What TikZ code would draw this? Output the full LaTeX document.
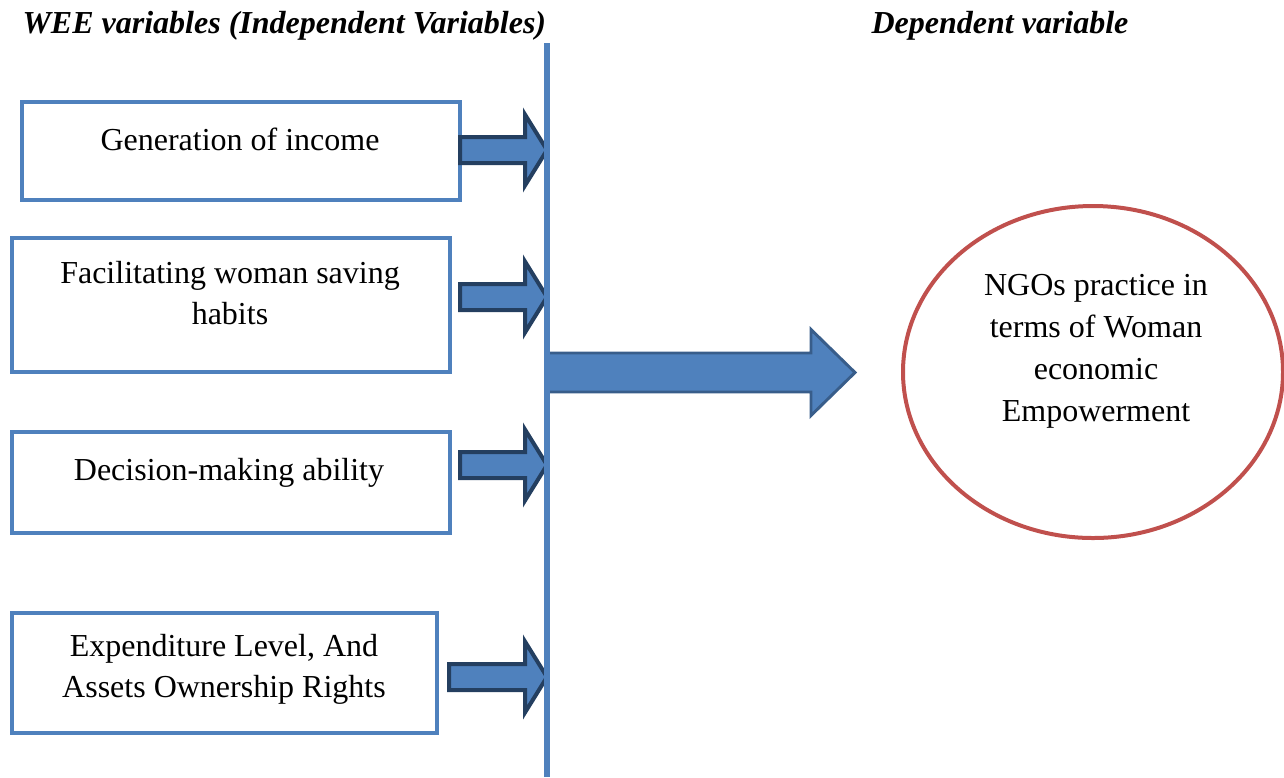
\documentclass[tikz,border=0pt]{standalone}
\usepackage{fontspec}
\setmainfont{Liberation Serif}
\usetikzlibrary{shapes.geometric,calc}
\definecolor{boxblue}{HTML}{4F81BD}
\definecolor{darkline}{HTML}{243F60}
\definecolor{midline}{HTML}{385D8A}
\definecolor{ellred}{HTML}{C0504D}
\newcommand\blockarrowpath[5]{($(#1)+(0,-#3)$) -- ($(#2)+(-#5,-#3)$) -- ($(#2)+(-#5,-#4)$) -- (#2) -- ($(#2)+(-#5,#4)$) -- ($(#2)+(-#5,#3)$) -- ($(#1)+(0,#3)$) -- cycle}
\begin{document}
\begin{tikzpicture}[x=0.375pt,y=-0.375pt,
  wbox/.style 2 args={draw=boxblue, line width=1.5pt, fill=white, minimum width=#1*0.375pt, minimum height=#2*0.375pt, inner sep=0pt},
  btext/.style={font=\fontsize{12pt}{15.5pt}\selectfont, align=center, inner sep=0pt},
  ttext/.style={font=\fontsize{12pt}{15pt}\selectfont\bfseries\itshape, inner sep=0pt},
  smallarrow/.style={draw=darkline, fill=boxblue, line width=1.5pt, line join=miter},
  bigarrow/.style={draw=midline, fill=boxblue, line width=1.1pt, line join=miter},
  axisline/.style={draw=boxblue, line width=2.3pt},
  ngo/.style={ellipse, draw=ellred, line width=1.5pt, minimum width=142.5pt, minimum height=124.5pt, inner sep=0pt}
]
\useasboundingbox (0,0) rectangle (1284,777);
% titles
\node[ttext, anchor=base west] (tleft) at (22,33) {WEE variables (Independent Variables)};
\node[ttext, anchor=base] (tright) at (1000,33) {Dependent variable};
% boxes
\node[wbox={438}{98}] (b1) at (241,151) {};
\node[wbox={438}{134}] (b2) at (231,305) {};
\node[wbox={438}{101}] (b3) at (231,482.5) {};
\node[wbox={425}{120}] (b4) at (224.5,673) {};
\node[btext] (l1) at (240,139) {Generation of income};
\node[btext] (l2) at (230,293) {Facilitating woman saving\\habits};
\node[btext] (l3) at (229,473) {Decision-making ability};
\node[btext] (l4) at (224,669) {Expenditure Level, And\\Assets Ownership Rights};
% vertical line
\coordinate (vtop) at (547,43);
\coordinate (vbot) at (547,777);
% arrow tails and tips
\coordinate (t1) at (460,150); \coordinate (h1) at (547,150);
\coordinate (t2) at (460,297); \coordinate (h2) at (547,297);
\coordinate (t3) at (460,465); \coordinate (h3) at (547,465);
\coordinate (t4) at (449,677); \coordinate (h4) at (547,677);
\draw[smallarrow] \blockarrowpath{t1}{h1}{13}{35.5}{22};
\draw[smallarrow] \blockarrowpath{t2}{h2}{13}{35.5}{22};
\draw[smallarrow] \blockarrowpath{t3}{h3}{13}{35.5}{22};
\draw[smallarrow] \blockarrowpath{t4}{h4}{13}{35.5}{22};
% ellipse
\node[ngo] (e) at (1093,372) {};
\node[btext, font=\fontsize{12pt}{15.75pt}\selectfont] (etext) at (1096,351) {NGOs practice in\\terms of Woman\\economic\\Empowerment};
% big arrow
\coordinate (bt) at (547,372.5);
\coordinate (bh) at (855,372.5);
\draw[bigarrow] \blockarrowpath{bt}{bh}{19.5}{43}{44};
\draw[axisline] (vtop) -- (vbot);
\end{tikzpicture}
\end{document}
